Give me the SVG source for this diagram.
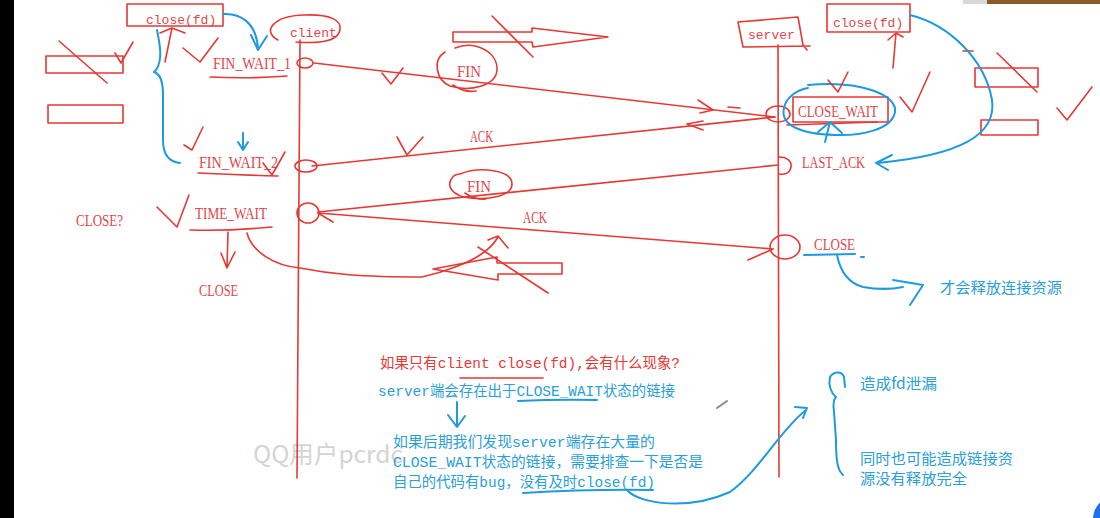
<svg xmlns="http://www.w3.org/2000/svg" width="1100" height="518" viewBox="0 0 1100 518">
<defs>
<style>
.r{stroke:#e53935;fill:none;stroke-width:1.6;stroke-linecap:round;stroke-linejoin:round}
.b{stroke:#1e9be0;fill:none;stroke-width:2;stroke-linecap:round;stroke-linejoin:round}
.lbl{font-family:"Liberation Serif",serif;font-size:16px;fill:#e0464c}
.mono{font-family:"Liberation Mono",monospace;font-size:13px;fill:#e0464c}
.zh{font-family:"Liberation Mono","Noto Sans CJK SC",monospace;font-size:14.5px}
.zr{fill:#e53935}
.zb{fill:#2a9fd8}
.side{font-family:"Noto Sans CJK SC",sans-serif;font-size:15px;fill:#2aa0d8}
</style>
</defs>
<rect width="1100" height="518" fill="#ffffff"/>
<rect x="0" y="0" width="14" height="518" fill="#000000"/>
<rect x="963" y="0" width="24" height="4" fill="#d8d8d8"/>
<rect x="987" y="0" width="113" height="4" fill="#8a5a2a"/>
<circle cx="1116" cy="519" r="23" fill="#1a73e8"/>
<text x="253" y="463" font-family="Noto Sans CJK SC,sans-serif" font-size="24" fill="#d4d4d4" textLength="150" lengthAdjust="spacingAndGlyphs">QQ用户pcrdc</text>

<g id="lifelines">
<path class="r" d="M300,40 L297,478"/>
<path class="r" d="M778,45 L779,477"/>
</g>

<g id="client">
<path class="r" d="M278,40 C262,32 272,16 304,15 C330,14 342,20 340,30 C338,40 322,44 296,42"/>
<text class="mono" x="290" y="37">client</text>
</g>

<g id="server">
<path class="r" d="M738,22 L798,17 L803,45 L807,50 M738,22 L743,47 L810,46"/>
<text class="mono" x="748" y="39">server</text>
</g>

<g id="client-close-fd">
<rect class="r" x="127" y="4" width="96" height="22"/>
<text class="mono" x="146" y="24">close(fd)</text>
</g>

<g id="server-close-fd">
<rect class="r" x="827" y="4" width="83" height="28"/>
<text class="mono" x="833" y="27">close(fd)</text>
</g>

<g id="fin-wait-1">
<ellipse class="r" cx="305" cy="63" rx="8" ry="5"/>
<text class="lbl" x="213" y="69" textLength="78" lengthAdjust="spacingAndGlyphs">FIN_WAIT_1</text>
<path class="r" d="M210,77 Q250,79 287,76"/>
</g>

<g id="fin-wait-2">
<ellipse class="r" cx="306" cy="166" rx="11" ry="6"/>
<text class="lbl" x="199" y="168" textLength="79" lengthAdjust="spacingAndGlyphs">FIN_WAIT_2</text>
<path class="r" d="M198,173 Q240,175 278,176"/>
<path class="r" d="M263,163 L272,175 L285,152"/>
</g>

<g id="time-wait">
<ellipse class="r" cx="308" cy="213" rx="11" ry="10"/>
<text class="lbl" x="195" y="219" textLength="72" lengthAdjust="spacingAndGlyphs">TIME_WAIT</text>
<path class="r" d="M190,230 Q230,231 272,227"/>
</g>

<g id="client-close">
<text class="lbl" x="199" y="296" textLength="39" lengthAdjust="spacingAndGlyphs">CLOSE</text>
</g>

<g id="close-question">
<text class="lbl" x="76" y="226" textLength="47" lengthAdjust="spacingAndGlyphs">CLOSE?</text>
</g>

<g id="close-wait">
<ellipse class="r" cx="778" cy="114" rx="12" ry="8"/>
<rect class="r" x="793" y="97" width="95" height="25"/>
<path class="r" d="M787,125 L877,122"/>
<text class="lbl" x="798" y="117" textLength="80" lengthAdjust="spacingAndGlyphs">CLOSE_WAIT</text>
<path class="b" d="M808,85 C860,80 898,95 895,112 C892,130 860,136 835,135 C800,134 780,125 784,108 C786,98 796,90 808,88"/>
</g>

<g id="last-ack">
<path class="r" d="M779,157 C788,157 792,162 791,167 C790,173 785,175 779,174"/>
<text class="lbl" x="802" y="168" textLength="63" lengthAdjust="spacingAndGlyphs">LAST_ACK</text>
</g>

<g id="server-close">
<ellipse class="r" cx="785" cy="247" rx="15" ry="12"/>
<text class="lbl" x="814" y="250" textLength="41" lengthAdjust="spacingAndGlyphs">CLOSE</text>
<path class="b" d="M804,255 L855,254 M861,257 L864,257"/>
</g>

<g id="fin-label-1">
<path class="r" d="M455,48 C475,40 498,52 497,70 C496,86 470,92 450,86 C436,80 432,60 445,52 M453,85 Q465,93 476,91"/>
<text class="lbl" x="457" y="77" textLength="24" lengthAdjust="spacingAndGlyphs">FIN</text>
</g>

<g id="ack-label-1">
<text class="lbl" x="470" y="142" textLength="23" lengthAdjust="spacingAndGlyphs">ACK</text>
</g>

<g id="fin-label-2">
<path class="r" d="M460,174 C480,166 512,170 512,184 C512,196 490,200 470,198 C452,196 446,186 452,178 C454,175 457,174 460,174 M465,193 Q475,200 486,199"/>
<text class="lbl" x="467" y="192" textLength="24" lengthAdjust="spacingAndGlyphs">FIN</text>
</g>

<g id="ack-label-2">
<text class="lbl" x="523" y="223" textLength="24" lengthAdjust="spacingAndGlyphs">ACK</text>
</g>

<g id="left-boxes">
<rect class="r" x="46" y="56" width="77" height="17"/>
<path class="r" d="M59,41 L107,83"/>
<path class="r" d="M115,53 L121,63 L133,42"/>
<rect class="r" x="48" y="105" width="75" height="18"/>
</g>

<g id="right-boxes">
<rect class="r" x="975" y="68" width="63" height="19"/>
<path class="r" d="M997,53 L1037,92"/>
<path class="r" d="M963,51 L973,51"/>
<rect class="r" x="981" y="120" width="57" height="15"/>
<path class="r" d="M1057,108 L1067,120 L1092,87"/>
</g>

<g id="hollow-arrows">
<path class="r" d="M453,32 L532,32 L532,28 L608,37 L533,47 L532,42 L453,42 Z"/>
<path class="r" d="M492,16 L533,57"/>
<path class="r" d="M562,263 L497,263 L497,257 L433,269 L498,280 L498,274 L562,274 Z"/>
<path class="r" d="M478,247 L548,293"/>
</g>

<g id="checks">
<path class="r" d="M183,48 L200,62 L218,38"/>
<path class="r" d="M184,145 L192,150 L203,127"/>
<path class="r" d="M157,207 L177,227 L189,195"/>
<path class="r" d="M382,73 L391,84 L403,68"/>
<path class="r" d="M397,137 L407,155 L423,137"/>
<path class="r" d="M828,80 L838,92 L848,72"/>
<path class="r" d="M900,97 L912,112 L930,72"/>
</g>

<g id="connectors">
<path class="r" d="M314,63 L775,117"/>
<path class="r" d="M698,100 L713,110 L700,113"/>
<path class="r" d="M728,107 L740,108"/>
<path class="r" d="M775,117 L312,166"/>
<path class="r" d="M703,121 L687,124 L703,130"/>
<path class="r" d="M778,165 L318,212"/>
<path class="r" d="M318,213 L333,222"/>
<path class="r" d="M318,213 L773,249"/>
<path class="r" d="M748,260 L773,249"/>
<path class="r" d="M165,62 L172,28 M160,33 L172,28 L185,33"/>
<path class="r" d="M893,68 L896,33 M888,40 L896,33 L903,37"/>
<path class="r" d="M228,232 L227,268 M221,253 L227,268 L235,252"/>
<path class="r" d="M247,233 C252,252 275,266 300,268 C330,274 360,277 422,277 C445,272 470,262 480,255 C488,250 494,244 498,237 M488,240 L498,236 L508,248"/>
<path class="b" d="M223,14 C240,13 256,22 258,48 M251,35 L258,50 L267,36"/>
<path class="b" d="M157,30 C160,45 163,60 156,70 L154,72 C160,74 163,80 163,95 L163,140 C163,155 170,162 180,163"/>
<path class="b" d="M243,133 L243,149 M238,142 L243,150 L248,142"/>
<path class="b" d="M825,142 L830,122 M818,132 L830,122 L842,133"/>
<path class="b" d="M910,15 C950,25 985,60 992,100 C997,135 960,155 878,163 M892,155 L876,163 L888,170"/>
<path class="b" d="M837,255 C840,270 848,283 863,287 C880,290 893,289 903,287 M893,280 L923,285 L910,305"/>
<path class="b" d="M627,490 C640,505 690,510 730,492 C760,470 780,430 806,410 M795,407 L807,408 L803,418"/>
<path class="b" d="M457,402 L457,426 M448,415 L457,427 L465,416"/>
<path class="b" d="M845,387 L844,377 C842,371 834,371 830,377 C828,385 831,393 836,397 C833,400 833,405 834,412 L836,440 C836,458 837,470 843,475"/>
</g>

<g id="question">
<text class="zh zr" x="380" y="368" textLength="300" lengthAdjust="spacingAndGlyphs">如果只有client close(fd),会有什么现象?</text>
<path class="r" d="M460,378 L543,378"/>
</g>

<g id="answer">
<text class="zh zb" x="378" y="396" textLength="297" lengthAdjust="spacingAndGlyphs">server端会存在出于CLOSE_WAIT状态的链接</text>
<path class="b" d="M518,401 Q560,399 597,400"/>
</g>

<g id="advice">
<text class="zh zb" x="393" y="447" textLength="262" lengthAdjust="spacingAndGlyphs">如果后期我们发现server端存在大量的</text>
<text class="zh zb" x="393" y="467" textLength="310" lengthAdjust="spacingAndGlyphs">CLOSE_WAIT状态的链接，需要排查一下是否是</text>
<text class="zh zb" x="393" y="487" textLength="262" lengthAdjust="spacingAndGlyphs">自己的代码有bug，没有及时close(fd)</text>
<path class="b" d="M523,493 Q590,489 653,490"/>
</g>

<g id="release-note">
<text class="side" x="940" y="293" textLength="122" lengthAdjust="spacingAndGlyphs">才会释放连接资源</text>
</g>

<g id="consequences">
<text class="side" x="860" y="389" textLength="77" lengthAdjust="spacingAndGlyphs">造成fd泄漏</text>
<text class="side" x="860" y="464" textLength="153" lengthAdjust="spacingAndGlyphs">同时也可能造成链接资</text>
<text class="side" x="860" y="484" textLength="107" lengthAdjust="spacingAndGlyphs">源没有释放完全</text>
</g>

<path d="M717,408 L727,401" stroke="#888" stroke-width="2" stroke-linecap="round"/>
</svg>
